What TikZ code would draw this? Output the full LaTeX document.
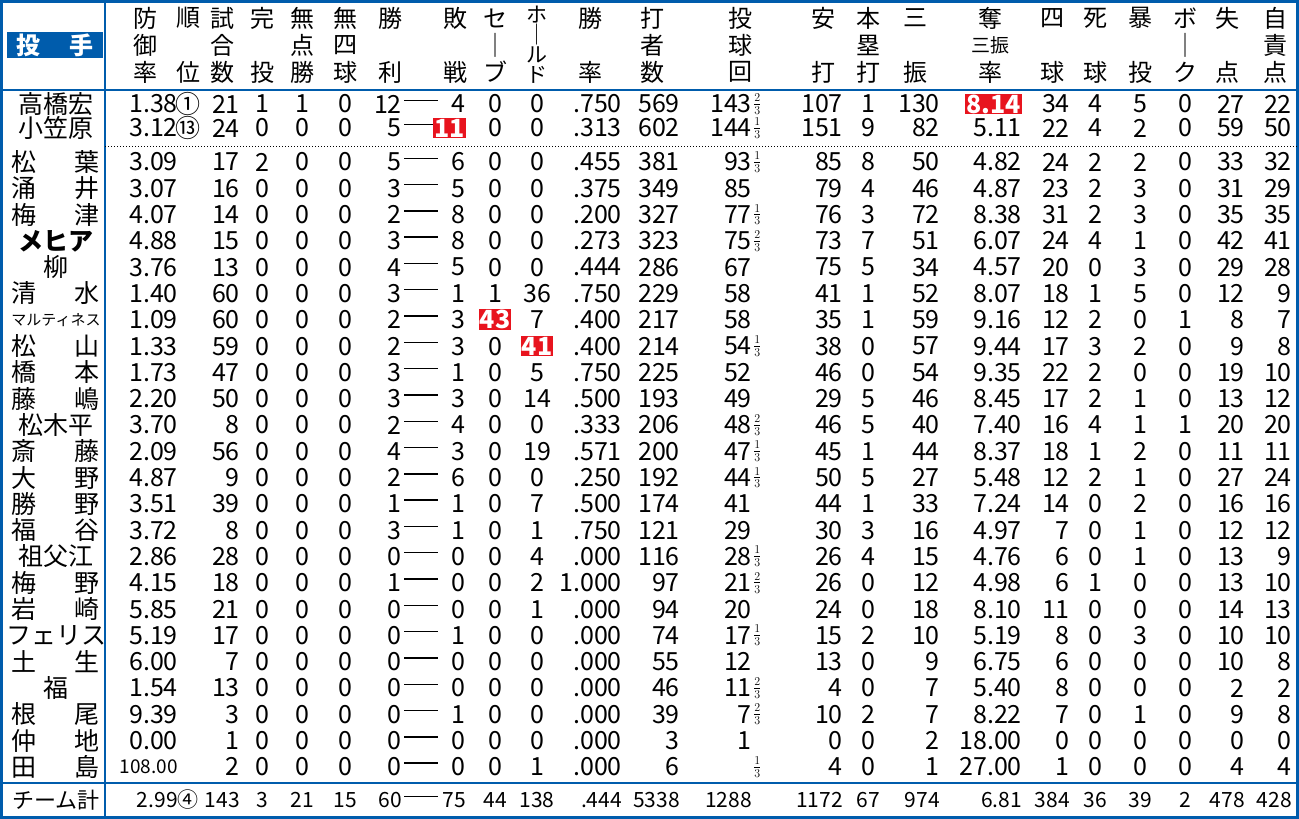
\documentclass[tikz,border=0pt]{standalone}
\usepackage{amsmath}
\usepackage{fontspec}
\setmainfont{Noto Sans CJK JP}
\usetikzlibrary{positioning}
\definecolor{chublue}{RGB}{0,92,172}
\definecolor{hlred}{RGB}{232,20,30}
\newcommand{\hl}[1]{{\setlength{\fboxsep}{1pt}\colorbox{hlred}{\color{white}\bfseries #1}}}
\newcommand{\fr}[2]{\raisebox{0.1em}{\fontsize{17}{17}\selectfont$\genfrac{}{}{0.6pt}{}{#1}{#2}$}}
\newcommand{\two}[2]{\makebox[88pt][s]{#1\hfill #2}}
\newcommand{\dash}{\rule[0.3em]{34pt}{1.4pt}}
\newcommand{\colx}{{178,188,240,262,302,345,402,466,495,537,622,680,752,753,843,868,940,1022,1070,1095,1140,1185,1245,1292}}
\newcommand{\cola}{{0,1,0,1,1,1,0,0,1,1,0,0,0,2,0,1,0,0,0,1,1,1,0,0}}
\newcommand{\prow}[3]{%
  \ifnum#1<3 \pgfmathsetmacro\ry{80+24*#1}\else\pgfmathsetmacro\ry{162+26.3*(#1-3)}\fi
  \node[nm] (n#1) at (56,\ry) {#2};
  \node[num] (w#1) at (421,\ry) {\dash};
  \foreach \v [count=\i] in {#3} {
    \pgfmathsetmacro\cx{\colx[\i-1]}
    \pgfmathtruncatemacro\ca{\cola[\i-1]}
    \ifcase\ca \node[num,anchor=east] (v#1-\i) at (\cx,\ry) {\v};
    \or \node[num] (v#1-\i) at (\cx,\ry) {\v};
    \or \node[num,anchor=west] (v#1-\i) at (\cx,\ry) {\v};
    \fi
  }
}
\newcommand{\hd}[4]{%
  \node[hd] (h#1a) at (#1,18) {#2};
  \node[hd] (h#1b) at (#1,45) {#3};
  \node[hd] (h#1c) at (#1,72) {#4};
}
\tikzset{
  num/.style={inner sep=0pt,font=\fontsize{25}{25}\selectfont},
  nm/.style={inner sep=0pt,font=\fontsize{25}{25}\selectfont},
  hd/.style={inner sep=0pt,font=\fontsize{24}{24}\selectfont},
}
\begin{document}
\begin{tikzpicture}[x=1pt,y=-1pt]
\fill[white] (0,0) rectangle (1299,819);
\useasboundingbox (0,0) rectangle (1299,819);
% frame and rules
\draw[chublue,line width=3pt] (1.5,1.5) rectangle (1297.5,817.5);
\draw[chublue,line width=2pt] (105,0) -- (105,819);
\draw[chublue,line width=2pt] (0,90) -- (1299,90);
\draw[chublue,line width=2pt] (0,783) -- (1299,783);
\draw[dotted,line width=1pt] (105,146) -- (1297,146);
% header
\node[fill=chublue,text=white,minimum width=96pt,minimum height=26pt,inner sep=0pt,
  font=\fontsize{24}{24}\selectfont\bfseries] (pit) at (55,45) {投\hspace{1.2em}手};
\hd{145}{防}{御}{率}
\hd{188}{順}{}{位}
\hd{222}{試}{合}{数}
\hd{262}{完}{}{投}
\hd{302}{無}{点}{勝}
\hd{345}{無}{四}{球}
\hd{390}{勝}{}{利}
\hd{455}{敗}{}{戦}
\hd{495}{セ}{｜}{ブ}
\node[hd,align=center,font=\fontsize{21}{20}\selectfont] (hhld) at (537,45) {ホ\\｜\\ル\\ド};
\hd{590}{勝}{}{率}
\hd{652}{打}{者}{数}
\hd{740}{投}{球}{回}
\hd{823}{安}{}{打}
\hd{868}{本}{塁}{打}
\hd{915}{三}{}{振}
\hd{990}{奪}{\fontsize{19}{19}\selectfont 三振}{率}
\hd{1052}{四}{}{球}
\hd{1095}{死}{}{球}
\hd{1140}{暴}{}{投}
\hd{1185}{ボ}{｜}{ク}
\hd{1227}{失}{}{点}
\hd{1275}{自}{責}{点}
% rows
\prow{1}{高橋宏}{1.38,①,21,1,1,0,12,4,0,0,.750,569,143,\fr{2}{3},107,1,130,\hl{8.14},34,4,5,0,27,22}
\prow{2}{小笠原}{3.12,⑬,24,0,0,0,5,\hl{11},0,0,.313,602,144,\fr{1}{3},151,9,82,5.11,22,4,2,0,59,50}
\prow{3}{\two{松}{葉}}{3.09,,17,2,0,0,5,6,0,0,.455,381,93,\fr{1}{3},85,8,50,4.82,24,2,2,0,33,32}
\prow{4}{\two{涌}{井}}{3.07,,16,0,0,0,3,5,0,0,.375,349,85,,79,4,46,4.87,23,2,3,0,31,29}
\prow{5}{\two{梅}{津}}{4.07,,14,0,0,0,2,8,0,0,.200,327,77,\fr{1}{3},76,3,72,8.38,31,2,3,0,35,35}
\prow{6}{\bfseries メヒア}{4.88,,15,0,0,0,3,8,0,0,.273,323,75,\fr{2}{3},73,7,51,6.07,24,4,1,0,42,41}
\prow{7}{柳}{3.76,,13,0,0,0,4,5,0,0,.444,286,67,,75,5,34,4.57,20,0,3,0,29,28}
\prow{8}{\two{清}{水}}{1.40,,60,0,0,0,3,1,1,36,.750,229,58,,41,1,52,8.07,18,1,5,0,12,9}
\prow{9}{\fontsize{15}{15}\selectfont マルティネス}{1.09,,60,0,0,0,2,3,\hl{43},7,.400,217,58,,35,1,59,9.16,12,2,0,1,8,7}
\prow{10}{\two{松}{山}}{1.33,,59,0,0,0,2,3,0,\hl{41},.400,214,54,\fr{1}{3},38,0,57,9.44,17,3,2,0,9,8}
\prow{11}{\two{橋}{本}}{1.73,,47,0,0,0,3,1,0,5,.750,225,52,,46,0,54,9.35,22,2,0,0,19,10}
\prow{12}{\two{藤}{嶋}}{2.20,,50,0,0,0,3,3,0,14,.500,193,49,,29,5,46,8.45,17,2,1,0,13,12}
\prow{13}{松木平}{3.70,,8,0,0,0,2,4,0,0,.333,206,48,\fr{2}{3},46,5,40,7.40,16,4,1,1,20,20}
\prow{14}{\two{斎}{藤}}{2.09,,56,0,0,0,4,3,0,19,.571,200,47,\fr{1}{3},45,1,44,8.37,18,1,2,0,11,11}
\prow{15}{\two{大}{野}}{4.87,,9,0,0,0,2,6,0,0,.250,192,44,\fr{1}{3},50,5,27,5.48,12,2,1,0,27,24}
\prow{16}{\two{勝}{野}}{3.51,,39,0,0,0,1,1,0,7,.500,174,41,,44,1,33,7.24,14,0,2,0,16,16}
\prow{17}{\two{福}{谷}}{3.72,,8,0,0,0,3,1,0,1,.750,121,29,,30,3,16,4.97,7,0,1,0,12,12}
\prow{18}{祖父江}{2.86,,28,0,0,0,0,0,0,4,.000,116,28,\fr{1}{3},26,4,15,4.76,6,0,1,0,13,9}
\prow{19}{\two{梅}{野}}{4.15,,18,0,0,0,1,0,0,2,1.000,97,21,\fr{2}{3},26,0,12,4.98,6,1,0,0,13,10}
\prow{20}{\two{岩}{崎}}{5.85,,21,0,0,0,0,0,0,1,.000,94,20,,24,0,18,8.10,11,0,0,0,14,13}
\prow{21}{フェリス}{5.19,,17,0,0,0,0,1,0,0,.000,74,17,\fr{1}{3},15,2,10,5.19,8,0,3,0,10,10}
\prow{22}{\two{土}{生}}{6.00,,7,0,0,0,0,0,0,0,.000,55,12,,13,0,9,6.75,6,0,0,0,10,8}
\prow{23}{福}{1.54,,13,0,0,0,0,0,0,0,.000,46,11,\fr{2}{3},4,0,7,5.40,8,0,0,0,2,2}
\prow{24}{\two{根}{尾}}{9.39,,3,0,0,0,0,1,0,0,.000,39,7,\fr{2}{3},10,2,7,8.22,7,0,1,0,9,8}
\prow{25}{\two{仲}{地}}{0.00,,1,0,0,0,0,0,0,0,.000,3,1,,0,0,2,18.00,0,0,0,0,0,0}
\prow{26}{\two{田}{島}}{\fontsize{19}{19}\selectfont 108.00,,2,0,0,0,0,0,0,1,.000,6,,\fr{1}{3},4,0,1,27.00,1,0,0,0,4,4}
% total
\node[nm,font=\fontsize{22}{22}\selectfont] (ntot) at (56,800) {チーム計};
\node[num] (wtot) at (421,800) {\dash};
\foreach \v [count=\i] in {2.99,④,143,3,21,15,60,75,44,138,.444,5338,1288,,1172,67,974,6.81,384,36,39,2,478,428} {
  \pgfmathsetmacro\cx{\colx[\i-1]}
  \pgfmathtruncatemacro\ca{\cola[\i-1]}
  \ifcase\ca \node[num,anchor=east,font=\fontsize{21}{21}\selectfont] (t\i) at (\cx,800) {\v};
  \or \node[num,font=\fontsize{21}{21}\selectfont] (t\i) at (\cx,800) {\v};
  \or \node[num,anchor=west] (t\i) at (\cx,800) {\v};
  \fi
}
\end{tikzpicture}
\end{document}
